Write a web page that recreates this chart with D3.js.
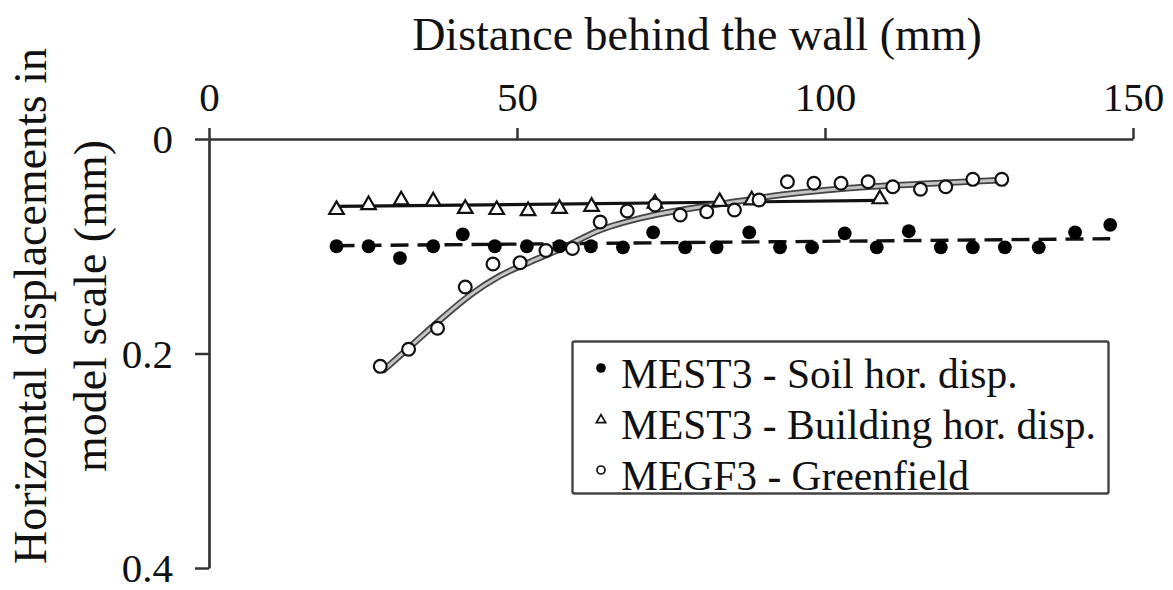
<!DOCTYPE html>
<html>
<head>
<meta charset="utf-8">
<script src="https://cdn.jsdelivr.net/npm/d3@7"></script>
<style>
  html, body { margin: 0; padding: 0; background: #fff; }
  svg { display: block; }
  text { font-family: "Liberation Serif", "Times New Roman", serif; fill: #111; }
</style>
</head>
<body>
<svg id="chart" width="1173" height="590"></svg>
<script>
// Distance behind the wall (mm) and horizontal displacement (mm), model scale
const soilX = [20.7, 25.9, 31.0, 36.4, 41.2, 46.4, 51.6, 56.9, 62.0, 67.2, 72.1, 77.3, 82.4,
               87.7, 92.7, 97.9, 103.2, 108.4, 113.6, 118.8, 124.0, 129.2, 134.7, 140.6, 146.3];
const soilY = [0.100, 0.100, 0.111, 0.100, 0.089, 0.100, 0.100, 0.100, 0.100, 0.101, 0.087, 0.101, 0.101,
               0.087, 0.101, 0.101, 0.088, 0.101, 0.086, 0.101, 0.101, 0.101, 0.101, 0.087, 0.080];

const buildX = [20.7, 25.9, 31.2, 36.4, 41.6, 46.7, 51.8, 56.9, 62.1, 72.4, 82.9, 88.1, 108.9];
const buildY = [0.066, 0.0615, 0.057, 0.058, 0.065, 0.066, 0.067, 0.065, 0.063, 0.060, 0.0585, 0.057, 0.056];

const greenX = [27.8, 32.4, 37.1, 41.6, 46.1, 50.5, 54.7, 59.0, 63.5, 67.9, 72.4, 76.5,
                80.8, 85.3, 89.3, 93.9, 98.2, 102.6, 107.0, 111.0, 115.5, 119.6, 124.0, 128.7];
const greenY = [0.212, 0.196, 0.1765, 0.138, 0.1166, 0.1153, 0.104, 0.102, 0.0774, 0.0671, 0.0615, 0.0709,
                0.0678, 0.0662, 0.0569, 0.0398, 0.0413, 0.0413, 0.0398, 0.0445, 0.0469, 0.0445, 0.0376, 0.0376];

// Trend lines
const soilTrendX = [20.7, 146.3];
const soilTrendY = [0.0995, 0.093];
const buildTrendX = [20.7, 108.9];
const buildTrendY = [0.0629, 0.0573];
const greenFitX = [28.2, 32.6, 37.5, 42.4, 47.2, 52.1, 57.0, 63.5, 71.6, 79.7, 86.2, 92.7, 104.1, 115.4, 128.9];
const greenFitY = [0.2163, 0.1939, 0.1688, 0.1455, 0.1277, 0.1147, 0.1026, 0.0849, 0.0718, 0.0634, 0.0578, 0.0522, 0.0457, 0.0420, 0.0382];

const xTicks = [0, 50, 100, 150];
const yTicks = [0, 0.2, 0.4];
const yTickLabels = ["0", "0.2", "0.4"];

const legendLabels = ["MEST3 - Soil hor. disp.", "MEST3 - Building hor. disp.", "MEGF3 - Greenfield"];

const svg = d3.select("#chart");
const x = d3.scaleLinear().domain([0, 150]).range([209, 1133]);
const y = d3.scaleLinear().domain([0, 0.4]).range([139, 568]);

const axisColor = "#333";

// x axis along the top
const xAxis = svg.append("g")
  .attr("transform", `translate(0,${y(0)})`)
  .call(d3.axisTop(x).tickValues(xTicks).tickSize(11).tickSizeOuter(0).tickFormat(d3.format("d")));
xAxis.select(".domain").attr("stroke", axisColor).attr("stroke-width", 2.7);
xAxis.selectAll(".tick line").attr("stroke", axisColor).attr("stroke-width", 2.5);
xAxis.selectAll(".tick text")
  .attr("font-size", 41).attr("fill", "#111")
  .attr("y", -28).attr("dy", 0);

// y axis on the left
const yAxis = svg.append("g")
  .attr("transform", `translate(${x(0)},0)`)
  .call(d3.axisLeft(y).tickValues(yTicks).tickSize(14).tickSizeOuter(0)
    .tickFormat((d, i) => yTickLabels[i]));
yAxis.select(".domain").attr("stroke", axisColor).attr("stroke-width", 2.7);
yAxis.selectAll(".tick line").attr("stroke", axisColor).attr("stroke-width", 2.5);
yAxis.selectAll(".tick text")
  .attr("font-size", 41).attr("fill", "#111")
  .attr("x", -36).attr("dy", "0.34em");

// axis titles
svg.append("text")
  .attr("x", 697).attr("y", 50)
  .attr("text-anchor", "middle")
  .attr("font-size", 46)
  .text("Distance behind the wall (mm)");

const yTitle = svg.append("text")
  .attr("transform", "translate(0,306) rotate(-90)")
  .attr("text-anchor", "middle")
  .attr("font-size", 46);
yTitle.append("tspan").attr("x", 0).attr("y", 46).text("Horizontal displacements in");
yTitle.append("tspan").attr("x", 0).attr("y", 106).text("model scale (mm)");

const line = d3.line().x(d => x(d[0])).y(d => y(d[1]));

// trend lines
svg.append("path")
  .datum(d3.zip(soilTrendX, soilTrendY))
  .attr("d", line)
  .attr("fill", "none").attr("stroke", "#111").attr("stroke-width", 3.4)
  .attr("stroke-dasharray", "18,9");

svg.append("path")
  .datum(d3.zip(buildTrendX, buildTrendY))
  .attr("d", line)
  .attr("fill", "none").attr("stroke", "#111").attr("stroke-width", 3.2);

const fitLine = d3.line().x(d => x(d[0])).y(d => y(d[1])).curve(d3.curveMonotoneX);
const fitData = d3.zip(greenFitX, greenFitY);
svg.append("path").datum(fitData).attr("d", fitLine)
  .attr("fill", "none").attr("stroke", "#444").attr("stroke-width", 6.5);
svg.append("path").datum(fitData).attr("d", fitLine)
  .attr("fill", "none").attr("stroke", "#c4c4c4").attr("stroke-width", 3);

// markers
const tri = d3.symbol().type(d3.symbolTriangle).size(92);

svg.append("g").selectAll("circle")
  .data(d3.zip(soilX, soilY)).join("circle")
  .attr("cx", d => x(d[0])).attr("cy", d => y(d[1])).attr("r", 6.9)
  .attr("fill", "#000");

svg.append("g").selectAll("path")
  .data(d3.zip(buildX, buildY)).join("path")
  .attr("d", tri)
  .attr("transform", d => `translate(${x(d[0])},${y(d[1])})`)
  .attr("fill", "#fff").attr("stroke", "#111").attr("stroke-width", 2.2);

svg.append("g").selectAll("circle")
  .data(d3.zip(greenX, greenY)).join("circle")
  .attr("cx", d => x(d[0])).attr("cy", d => y(d[1])).attr("r", 6.4)
  .attr("fill", "#fff").attr("stroke", "#111").attr("stroke-width", 2.2);

// legend
const lg = svg.append("g");
lg.append("rect")
  .attr("x", 572.5).attr("y", 341.5).attr("width", 536).attr("height", 152)
  .attr("rx", 2)
  .attr("fill", "#fff").attr("stroke", "#444").attr("stroke-width", 2.4);

const rowY = [373, 424, 475];
lg.append("circle").attr("cx", 601).attr("cy", rowY[0] - 5).attr("r", 4.8).attr("fill", "#000");
lg.append("path").attr("d", d3.symbol().type(d3.symbolTriangle).size(38))
  .attr("transform", `translate(601,${rowY[1] - 4})`)
  .attr("fill", "#fff").attr("stroke", "#111").attr("stroke-width", 1.7);
lg.append("circle").attr("cx", 601).attr("cy", rowY[2] - 5).attr("r", 4)
  .attr("fill", "#fff").attr("stroke", "#111").attr("stroke-width", 1.7);

lg.selectAll("text.lab")
  .data(legendLabels).join("text")
  .attr("class", "lab")
  .attr("x", 621).attr("y", (d, i) => rowY[i]).attr("dy", "0.35em")
  .attr("font-size", 41.5)
  .text(d => d);
</script>
</body>
</html>
